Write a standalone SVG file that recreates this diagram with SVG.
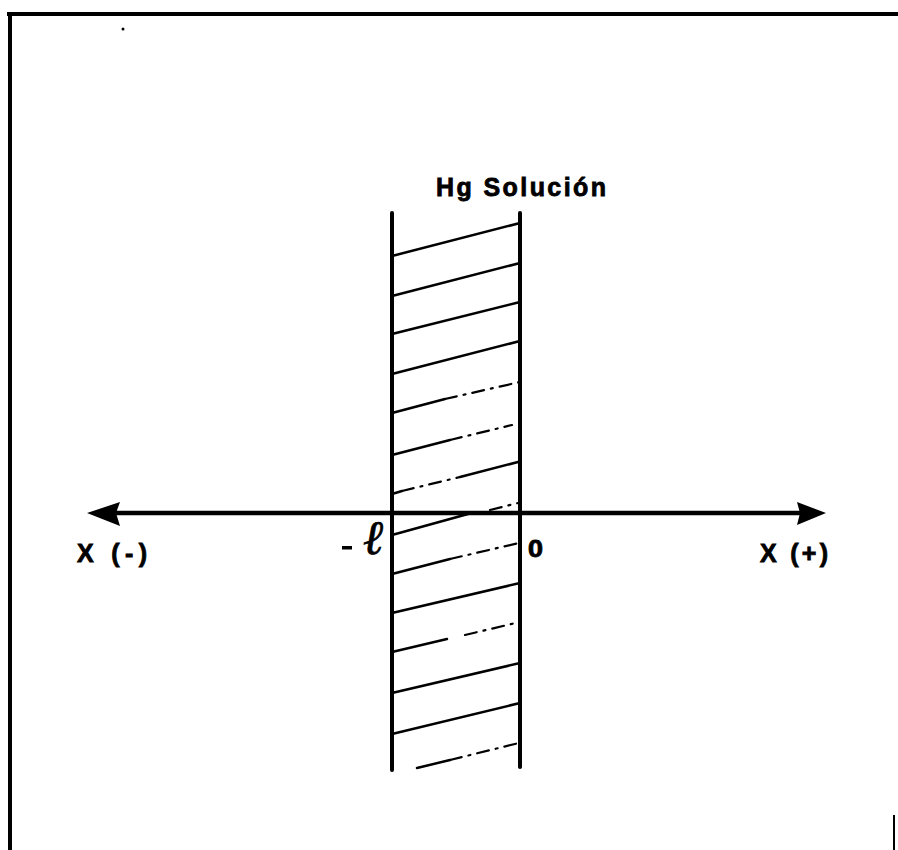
<svg xmlns="http://www.w3.org/2000/svg" width="898" height="850" viewBox="0 0 898 850">
<style>
.frame{stroke:#000;stroke-width:4;fill:none}
.wall{stroke:#000;stroke-width:4;stroke-linecap:round;fill:none}
.axis{stroke:#000;stroke-width:4.5;fill:none}
.h{stroke:#000;stroke-width:2.5;stroke-linecap:round;fill:none}
.hd{stroke:#000;stroke-width:2.2;stroke-linecap:round;fill:none;stroke-dasharray:12 7 2 7}
.lbl{font-family:"Liberation Sans","DejaVu Sans",sans-serif;font-weight:bold;fill:#000;stroke:#000;stroke-width:0.8}
.script{font-family:"DejaVu Serif","Liberation Serif",serif;font-style:italic;fill:#000;stroke:#000;stroke-width:0.8}
</style>
<rect width="898" height="850" fill="#fff"/>
<g id="frame">
  <line class="frame" x1="7" y1="14" x2="898" y2="14"/>
  <line class="frame" x1="10" y1="12" x2="10" y2="850"/>
  <line x1="894" y1="815" x2="894" y2="850" stroke="#000" stroke-width="2"/>
  <circle cx="123" cy="29" r="1.5" fill="#000"/>
</g>
<g id="solution-layer">
  <line class="wall" x1="392" y1="213" x2="392" y2="770"/>
  <line class="wall" x1="520" y1="213" x2="520" y2="767"/>
  <g id="hatch">
    <line class="h" x1="392" y1="256" x2="520" y2="223"/>
    <line class="h" x1="392" y1="296" x2="520" y2="263"/>
    <line class="h" x1="392" y1="334" x2="520" y2="302"/>
    <line class="h" x1="392" y1="374" x2="520" y2="341"/>
    <line class="h" x1="392" y1="413" x2="445" y2="399"/>
    <line class="hd" x1="445" y1="399" x2="520" y2="382"/>
    <line class="h" x1="392" y1="455" x2="450" y2="440"/>
    <line class="hd" x1="450" y1="440" x2="512" y2="425"/>
    <line class="h" x1="392" y1="494" x2="402" y2="491"/>
    <line class="hd" x1="402" y1="491" x2="460" y2="477"/>
    <line class="h" x1="460" y1="477" x2="518" y2="462"/>
    <line class="h" x1="392" y1="535" x2="468" y2="514"/>
    <line class="hd" x1="490" y1="510" x2="518" y2="503"/>
    <line class="h" x1="392" y1="574" x2="450" y2="559"/>
    <line class="hd" x1="450" y1="559" x2="519" y2="543"/>
    <line class="h" x1="392" y1="613" x2="520" y2="583"/>
    <line class="h" x1="392" y1="652" x2="447" y2="639"/>
    <line class="hd" x1="465" y1="635" x2="520" y2="622"/>
    <line class="h" x1="392" y1="693" x2="520" y2="663"/>
    <line class="h" x1="392" y1="734" x2="520" y2="703"/>
    <line class="h" x1="417" y1="768" x2="450" y2="760"/>
    <line class="hd" x1="450" y1="760" x2="519" y2="743"/>
  </g>
</g>
<g id="connectors">
  <line class="axis" x1="110" y1="513" x2="805" y2="513"/>
  <polygon points="87,513 120,502 116,513 120,526" fill="#000"/>
  <polygon points="826,513 797,502 800,513 797,525" fill="#000"/>
</g>
<g id="labels">
  <text class="lbl" x="436" y="196" font-size="25" textLength="170" lengthAdjust="spacing">Hg Solución</text>
  <text class="lbl" x="77" y="562" font-size="25" textLength="70" lengthAdjust="spacing">X (-)</text>
  <text class="lbl" x="760" y="562" font-size="25" textLength="68" lengthAdjust="spacing">X (+)</text>
  <rect x="342" y="546" width="10" height="3.5" fill="#000"/>
  <text class="script" x="363" y="554" font-size="48">ℓ</text>
  <text class="lbl" x="528" y="557" font-size="23" textLength="15" lengthAdjust="spacingAndGlyphs">0</text>
</g>
</svg>
